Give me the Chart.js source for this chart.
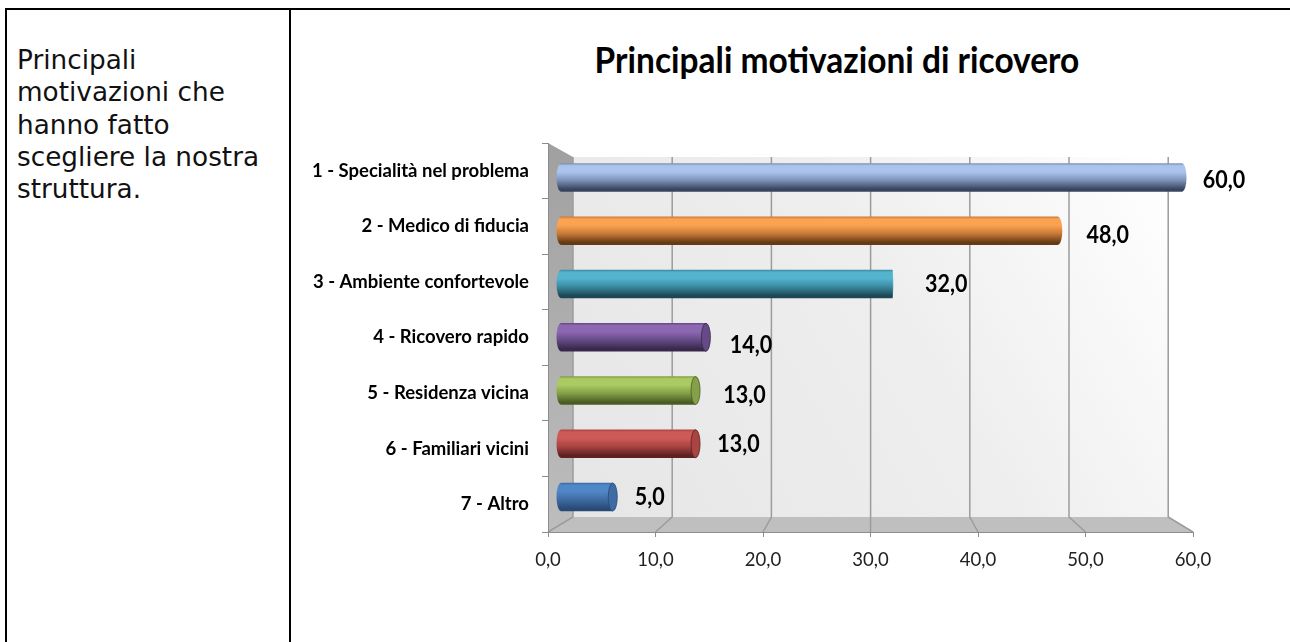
<!DOCTYPE html>
<html lang="it">
<head>
<meta charset="utf-8">
<title>Principali motivazioni di ricovero</title>
<script src="https://cdn.jsdelivr.net/npm/chart.js@4/dist/chart.umd.js"></script>
<style>
  html, body { margin: 0; padding: 0; background: #fff; overflow: hidden; }
  #frame { position: relative; width: 1290px; height: 642px; }
  #top { position: absolute; left: 5px; top: 8px; width: 1285px; height: 2px; background: #000; }
  #left { position: absolute; left: 5px; top: 8px; width: 2px; height: 634px; background: #000; }
  #divider { position: absolute; left: 289px; top: 8px; width: 2px; height: 634px; background: #000; }
  #note {
    position: absolute; left: 17px; top: 44px; width: 270px;
    font: 26.3px/32.3px "DejaVu Sans", sans-serif; color: #111;
  }
  #title {
    position: absolute; left: 537px; top: 35px; width: 600px; text-align: center;
    font: bold 36px/48px Lato, sans-serif; color: #000; transform: scaleX(0.93);
  }
  #wrap { position: absolute; left: 291px; top: 10px; width: 999px; height: 632px; }
</style>
</head>
<body>
<div id="frame">
  <div id="top"></div>
  <div id="left"></div>
  <div id="divider"></div>
  <div id="note">Principali<br>motivazioni che<br>hanno fatto<br>scegliere la nostra<br>struttura.</div>
  <div id="title">Principali motivazioni di ricovero</div>
  <div id="wrap"><canvas id="chart" width="999" height="632"></canvas></div>
</div>
<script>
const CATEGORIES = ['1 - Specialità nel problema', '2 - Medico di fiducia', '3 - Ambiente confortevole',
                    '4 - Ricovero rapido', '5 - Residenza vicina', '6 - Familiari vicini', '7 - Altro'];
const VALUES = [60, 48, 32, 14, 13, 13, 5];
const BAR_ROWS = [0, 1, 2, 3, 4, 5, 6];
const BAR_COLORS = [['#abc4ee', '#7d92b8', '#39445e'],
                    ['#fba352', '#c97a3a', '#663a12'],
                    ['#54b4ce', '#3a8aa0', '#1c4754'],
                    ['#8c68b2', '#664a86', '#38294b'],
                    ['#aaca62', '#84a048', '#4a5c24'],
                    ['#ce5a57', '#a84442', '#5c2120'],
                    ['#5087c6', '#3e6ba3', '#2a4a75']];
// nudges of the value labels from the bar ends, they are not evenly placed in the original
const LABEL_DX = [42, 50, 54, 45, 49, 43, 37];
const LABEL_DY = [2, 4, 0, 8, 4, 0, 0];

const fmt = v => v.toFixed(1).replace('.', ',');

const wallsPlugin = {
    id: 'walls',
    beforeDraw(chart) {
        const { ctx, chartArea: a, scales } = chart;
        const backL = scales.xBack.getPixelForValue(0);
        const backR = scales.xBack.getPixelForValue(60);
        const backT = a.top + 14, backB = a.bottom - 15;
        ctx.save();

        let g = ctx.createLinearGradient(backL, backB, backR, backT);
        g.addColorStop(0, '#e6e6e6');
        g.addColorStop(0.55, '#eeeeee');
        g.addColorStop(1, '#ffffff');
        ctx.fillStyle = g;
        ctx.fillRect(backL, backT, backR - backL, backB - backT);

        g = ctx.createLinearGradient(a.left, a.top, a.left, a.bottom);
        g.addColorStop(0, '#a0a0a0');
        g.addColorStop(1, '#bdbdbd');
        ctx.fillStyle = g;
        ctx.beginPath();
        ctx.moveTo(a.left, a.top);
        ctx.lineTo(backL, backT);
        ctx.lineTo(backL, backB);
        ctx.lineTo(a.left, a.bottom);
        ctx.closePath();
        ctx.fill();

        ctx.fillStyle = '#bfbfbf';
        ctx.beginPath();
        ctx.moveTo(backL, backB);
        ctx.lineTo(backR, backB);
        ctx.lineTo(a.right, a.bottom);
        ctx.lineTo(a.left, a.bottom);
        ctx.closePath();
        ctx.fill();

        ctx.strokeStyle = '#9c9c9c';
        ctx.lineWidth = 1.5;
        for (const v of scales.x.ticks.map(t => t.value)) {
            const bx = scales.xBack.getPixelForValue(v);
            ctx.beginPath();
            ctx.moveTo(bx, backT);
            ctx.lineTo(bx, backB);
            ctx.lineTo(scales.x.getPixelForValue(v), a.bottom);
            ctx.stroke();
        }
        ctx.restore();
    },
};

const capsPlugin = {
    id: 'caps',
    afterDatasetsDraw(chart) {
        const { ctx } = chart;
        const bars = chart.getDatasetMeta(0).data;
        ctx.save();
        bars.forEach((bar, i) => {
            const ry = bar.height / 2;
            const rx = 4.5;
            const fill = barGradient(ctx, bar.y, ry, i);
            ctx.fillStyle = fill;
            ctx.beginPath();
            ctx.ellipse(bar.base, bar.y, rx, ry, 0, Math.PI / 2, Math.PI * 1.5);
            ctx.fill();
            ctx.beginPath();
            if (VALUES[i] < 30) {
                // short bars show the flat end of the cylinder
                ctx.ellipse(bar.x, bar.y, rx, ry, 0, 0, Math.PI * 2);
                ctx.fillStyle = BAR_COLORS[i][1];
                ctx.fill();
                ctx.strokeStyle = BAR_COLORS[i][2];
                ctx.lineWidth = 0.8;
                ctx.stroke();
            } else {
                ctx.ellipse(bar.x, bar.y, VALUES[i] < 40 ? 1 : rx, ry, 0, -Math.PI / 2, Math.PI / 2);
                ctx.fill();
            }
        });
        ctx.restore();
    },
};

const valueLabels = {
    id: 'valueLabels',
    afterDraw(chart) {
        const { ctx } = chart;
        ctx.font = 'bold 25px Lato, sans-serif';
        ctx.fillStyle = '#000';
        ctx.textAlign = 'center';
        ctx.textBaseline = 'middle';
        chart.getDatasetMeta(0).data.forEach((bar, i) => {
            ctx.save();
            ctx.translate(bar.x + LABEL_DX[i], bar.y + LABEL_DY[i]);
            ctx.scale(0.86, 1); // the original font is narrower than Lato
            ctx.fillText(fmt(VALUES[i]), 0, 0);
            ctx.restore();
        });
    },
};

function barGradient(ctx, y, r, i) {
    const [light, mid, dark] = BAR_COLORS[i];
    if (!Number.isFinite(y)) return mid; // options get resolved once before the scales are laid out
    const g = ctx.createLinearGradient(0, y - r, 0, y + r);
    g.addColorStop(0, mid);
    g.addColorStop(0.08, light);
    g.addColorStop(0.3, light);
    g.addColorStop(0.6, mid);
    g.addColorStop(0.92, dark);
    g.addColorStop(1, dark);
    return g;
}

new Chart(document.getElementById('chart'), {
    type: 'bar',
    data: {
        datasets: [{
            data: VALUES.map((v, i) => ({ x: v, y: BAR_ROWS[i] })),
            xAxisID: 'xBars',
            yAxisID: 'yBars',
            barThickness: 28,
            backgroundColor: c => {
                if (c.dataIndex === undefined) return BAR_COLORS[0][1];
                const ys = c.chart.scales.yBars;
                return barGradient(c.chart.ctx, ys.getPixelForValue(BAR_ROWS[c.dataIndex]), 14, c.dataIndex);
            },
        }],
    },
    options: {
        indexAxis: 'y',
        responsive: false,
        animation: false,
        layout: { padding: { left: 17, right: 97, top: 133, bottom: 0 } },
        plugins: {
            legend: { display: false },
            tooltip: { enabled: false },
            title: { display: false },
        },
        scales: {
            x: {
                type: 'linear',
                position: 'bottom',
                min: 0,
                max: 60,
                afterFit(s) { s.height = 110; s.paddingLeft = 0; s.paddingRight = 0; },
                ticks: {
                    stepSize: 10,
                    maxRotation: 0,
                    padding: 12,
                    color: '#222',
                    font: { family: 'Lato, sans-serif', size: 18.5 },
                    callback: v => fmt(v),
                },
                grid: { drawOnChartArea: false, color: '#8c8c8c', tickLength: 5 },
                border: { display: true, color: '#8c8c8c' },
            },
            // the cylinders and the back wall sit on their own planes, so they get their own ranges
            xBars: { type: 'linear', display: false, min: -1.256, max: 61.06 },
            xBack: { type: 'linear', display: false, min: -2.52, max: 62.5 },
            y: {
                type: 'category',
                position: 'left',
                labels: CATEGORIES,
                offset: true,
                afterFit(s) { s.width = 240; },
                ticks: {
                    padding: 13,
                    autoSkip: false,
                    color: '#000',
                    font: { family: 'Lato, sans-serif', size: 18.5, weight: 'bold' },
                },
                grid: { drawOnChartArea: false, offset: true, color: '#8c8c8c', tickLength: 6 },
                border: { display: true, color: '#8c8c8c' },
            },
            yBars: { type: 'linear', display: false, reverse: true, offset: false, min: -0.648, max: 6.657 },
        },
    },
    plugins: [wallsPlugin, capsPlugin, valueLabels],
});
</script>
</body>
</html>
